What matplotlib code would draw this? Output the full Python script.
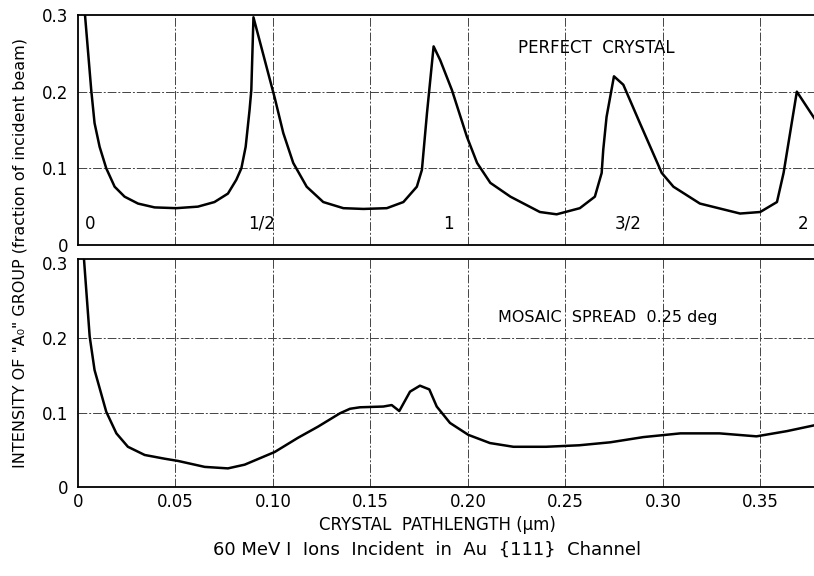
import matplotlib
matplotlib.use("Agg")
import matplotlib.pyplot as plt

# perfect crystal curve (top panel)
perfect_x = [0.0036, 0.0068, 0.0085, 0.0111, 0.0145, 0.0188, 0.0239, 0.0308, 0.0393,
             0.0504, 0.0615, 0.0700, 0.0769, 0.0812, 0.0838, 0.0860, 0.0880, 0.0889,
             0.0900, 0.0985, 0.1010, 0.1053, 0.1104, 0.1173, 0.1258, 0.1361, 0.1464,
             0.1584, 0.1669, 0.1738, 0.1764, 0.1790, 0.1824, 0.1858, 0.1918, 0.1995,
             0.2047, 0.2115, 0.2218, 0.2369, 0.2455, 0.2574, 0.2651, 0.2686, 0.2694,
             0.2711, 0.2749, 0.2797, 0.2882, 0.2994, 0.3054, 0.3190, 0.3396, 0.3499,
             0.3585, 0.3619, 0.3687, 0.3780]
perfect_y = [0.300, 0.202, 0.159, 0.128, 0.100, 0.076, 0.063, 0.054, 0.049,
             0.048, 0.050, 0.056, 0.067, 0.085, 0.100, 0.128, 0.176, 0.202,
             0.297, 0.215, 0.191, 0.146, 0.107, 0.076, 0.056, 0.048, 0.047,
             0.048, 0.056, 0.076, 0.098, 0.172, 0.259, 0.241, 0.202, 0.141,
             0.107, 0.081, 0.063, 0.043, 0.040, 0.048, 0.063, 0.094, 0.124,
             0.167, 0.220, 0.209, 0.159, 0.094, 0.076, 0.054, 0.041, 0.043,
             0.056, 0.094, 0.200, 0.164]

# mosaic spread curve (bottom panel)
mosaic_x = [0.0031, 0.0060, 0.0085, 0.0145, 0.0197, 0.0256, 0.0342, 0.0444, 0.0513,
            0.0650, 0.0769, 0.0855, 0.1009, 0.1128, 0.1231, 0.1344, 0.1395, 0.1446,
            0.1566, 0.1609, 0.1648, 0.1703, 0.1754, 0.1802, 0.1840, 0.1908, 0.2002,
            0.2113, 0.2233, 0.2400, 0.2570, 0.2730, 0.2900, 0.3090, 0.3290, 0.3480,
            0.3636, 0.3780]
mosaic_y = [0.305, 0.202, 0.157, 0.101, 0.072, 0.054, 0.043, 0.038, 0.035,
            0.027, 0.025, 0.030, 0.047, 0.066, 0.081, 0.099, 0.105, 0.107,
            0.108, 0.110, 0.102, 0.128, 0.136, 0.131, 0.108, 0.086, 0.070,
            0.059, 0.054, 0.054, 0.056, 0.060, 0.067, 0.072, 0.072, 0.068,
            0.075, 0.083]

x_ticks = [0, 0.05, 0.10, 0.15, 0.20, 0.25, 0.30, 0.35]
x_ticklabels = ["0", "0.05", "0.10", "0.15", "0.20", "0.25", "0.30", "0.35"]
y_ticks = [0, 0.1, 0.2, 0.3]
y_ticklabels = ["0", "0.1", "0.2", "0.3"]
grid_y = [0.1, 0.2]

# periodicity labels in the top panel
period_labels = ["0", "1/2", "1", "3/2", "2"]
period_x = [0.006, 0.094, 0.190, 0.282, 0.372]

plt.rcParams["font.family"] = ["DejaVu Sans"]

fig = plt.figure(figsize=(8.14, 5.76), dpi=100)
ax_top = fig.add_axes([0.0958, 0.5747, 0.9042, 0.3993])
ax_bot = fig.add_axes([0.0958, 0.1545, 0.9042, 0.3958])

grid_style = dict(color="#444444", linewidth=0.7, linestyle=(0, (9, 2, 2, 2)), zorder=1)

for ax, ymax in [(ax_top, 0.3), (ax_bot, 0.306)]:
    ax.set_xlim(0, 0.3775)
    ax.set_ylim(0, ymax)
    ax.set_xticks(x_ticks)
    ax.set_yticks(y_ticks)
    ax.set_yticklabels(y_ticklabels)
    ax.tick_params(axis="y", length=0, labelsize=12, pad=7)
    ax.tick_params(axis="x", length=0, labelsize=12, pad=4)
    for xv in x_ticks[1:]:
        ax.axvline(xv, **grid_style)
    for yv in grid_y:
        ax.axhline(yv, **grid_style)
    ax.spines["right"].set_visible(False)
    for s in ["left", "top", "bottom"]:
        ax.spines[s].set_linewidth(1.3)

ax_top.set_xticklabels([])
ax_bot.set_xticklabels(x_ticklabels)

ax_top.plot(perfect_x, perfect_y, color="black", linewidth=1.8, zorder=3,
            solid_joinstyle="round")
ax_bot.plot(mosaic_x, mosaic_y, color="black", linewidth=1.8, zorder=3,
            solid_joinstyle="round")

ax_top.text(0.2256, 0.257, "PERFECT  CRYSTAL", fontsize=12, va="center", ha="left")
ax_bot.text(0.2154, 0.227, "MOSAIC  SPREAD  0.25 deg", fontsize=11.5, va="center", ha="left")

for lab, xv in zip(period_labels, period_x):
    ax_top.text(xv, 0.028, lab, fontsize=12, ha="center", va="center")

ax_bot.set_xlabel("CRYSTAL  PATHLENGTH (μm)", fontsize=12)
ax_bot.xaxis.set_label_coords(0.488, -0.125)

fig.text(0.024, 0.56, 'INTENSITY OF "A₀" GROUP (fraction of incident beam)',
         rotation=90, ha="center", va="center", fontsize=11.5)

fig.text(0.525, 0.045, "60 MeV I  Ions  Incident  in  Au  {111}  Channel",
         ha="center", va="center", fontsize=13)

fig.savefig("out.png", dpi=100, facecolor="white")
